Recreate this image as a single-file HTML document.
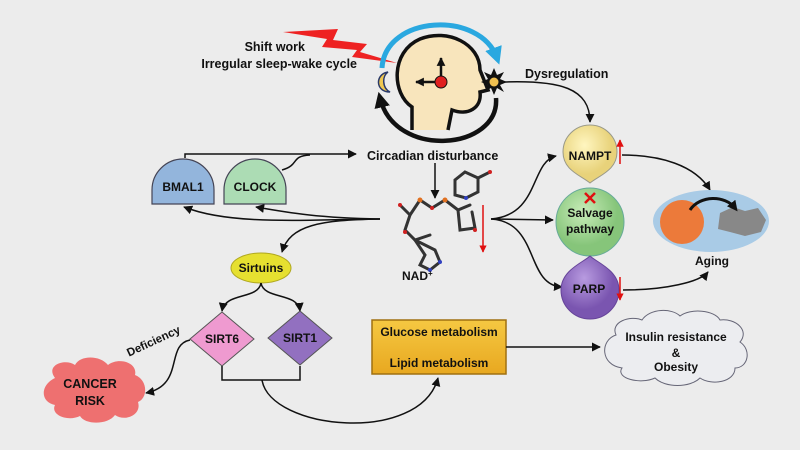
<!DOCTYPE html>
<html><head><meta charset="utf-8"><style>
body{margin:0;background:#ececec}
svg{display:block}
text{font-family:"Liberation Sans",sans-serif;font-weight:bold;fill:#111}
</style></head><body>
<svg width="800" height="450" viewBox="0 0 800 450">
<defs>
<marker id="a" viewBox="0 0 10 10" refX="9" refY="5" markerWidth="6" markerHeight="6" orient="auto"><path d="M0,0L10,5L0,10z" fill="#111"/></marker>
<marker id="as" viewBox="0 0 10 10" refX="9" refY="5" markerWidth="3.5" markerHeight="3.5" orient="auto"><path d="M0,0L10,5L0,10z" fill="#111"/></marker>
<marker id="ar" viewBox="0 0 10 10" refX="9" refY="5" markerWidth="5" markerHeight="5" orient="auto"><path d="M0,0L10,5L0,10z" fill="#e01010"/></marker>
<marker id="ab" viewBox="0 0 10 10" refX="6" refY="5" markerWidth="3.5" markerHeight="3.5" orient="auto"><path d="M0,0L10,5L0,10z" fill="#2aa8e0"/></marker>
<marker id="ak" viewBox="0 0 10 10" refX="6" refY="5" markerWidth="3.5" markerHeight="3.5" orient="auto"><path d="M0,0L10,5L0,10z" fill="#111"/></marker>
<radialGradient id="gy" cx="40%" cy="35%"><stop offset="0" stop-color="#fff6c0"/><stop offset="1" stop-color="#e8d27a"/></radialGradient>
<radialGradient id="gg" cx="40%" cy="35%"><stop offset="0" stop-color="#c8ecb8"/><stop offset="1" stop-color="#86c57a"/></radialGradient>
<radialGradient id="gp" cx="40%" cy="35%"><stop offset="0" stop-color="#b89be0"/><stop offset="1" stop-color="#7a55b0"/></radialGradient>
<linearGradient id="go" x1="0" y1="0" x2="0" y2="1"><stop offset="0" stop-color="#f5c842"/><stop offset="1" stop-color="#e8a820"/></linearGradient>
</defs>

<path d="M283,32 L338,29 L333,40 L367,44 L360,52 L397,63 L352,57 L357,50 L322,47 L327,39 Z" fill="#ee2222"/>
<text x="305" y="51" font-size="12.5" text-anchor="end">Shift work</text>
<text x="357" y="68" font-size="12.5" text-anchor="end">Irregular sleep-wake cycle</text>

<path d="M382,68 C385,15 480,10 497,58" fill="none" stroke="#2aa8e0" stroke-width="5" marker-end="url(#ab)"/>
<path d="M496,98 C500,150 395,160 380,98" fill="none" stroke="#111" stroke-width="4.5" marker-end="url(#ak)"/>

<path d="M412,130 L412,107 C392,94 390,52 420,39 C448,28 480,44 480,70 L488,90 L480,92 C482,108 468,116 452,110 L448,130 Z" fill="#f8e5bc" stroke="none"/>
<path d="M412,130 L412,107 C392,94 390,52 420,39 C448,28 480,44 480,70 L488,90 L480,92 C482,108 468,116 452,110 L448,130" fill="none" stroke="#111" stroke-width="3.5"/>
<line x1="441" y1="82" x2="441" y2="58" stroke="#111" stroke-width="2.5" marker-end="url(#as)"/>
<line x1="441" y1="82" x2="416" y2="82" stroke="#111" stroke-width="2.5" marker-end="url(#as)"/>
<circle cx="441" cy="82" r="6" fill="#e02020" stroke="#111" stroke-width="1"/>
<path d="M388,72 C375,74 375,92 390,92 C382,88 382,76 388,72 Z" fill="#f0c850" stroke="#2a3a6a" stroke-width="1.5"/>
<path d="M494,68 L497,75 L504,72 L500,79 L507,82 L500,85 L504,92 L497,88 L494,95 L491,88 L484,92 L488,85 L481,82 L488,79 L484,72 L491,75 Z" fill="#111"/>
<circle cx="494" cy="82" r="4.5" fill="#f0c050"/>

<text x="525" y="78" font-size="12.5">Dysregulation</text>
<path d="M503,82 C560,80 590,88 590,122" fill="none" stroke="#111" stroke-width="1.5" marker-end="url(#a)"/>

<text x="367" y="160" font-size="12.5">Circadian disturbance</text>
<path d="M185,158 L185,154 L356,154" fill="none" stroke="#111" stroke-width="1.5" marker-end="url(#a)"/>
<path d="M282,170 C300,165 290,156 310,155" fill="none" stroke="#111" stroke-width="1.5"/>

<path d="M152,204 L152,190 A31,31 0 0 1 214,190 L214,204 Z" fill="#93b5dc" stroke="#445" stroke-width="1.2"/>
<text x="183" y="191" font-size="12" text-anchor="middle">BMAL1</text>
<path d="M224,204 L224,190 A31,31 0 0 1 286,190 L286,204 Z" fill="#acdcb4" stroke="#445" stroke-width="1.2"/>
<text x="255" y="191" font-size="12" text-anchor="middle">CLOCK</text>

<path d="M380,219 C300,220 230,225 184,207" fill="none" stroke="#111" stroke-width="1.5" marker-end="url(#a)"/>
<path d="M380,219 C320,218 290,213 256,207" fill="none" stroke="#111" stroke-width="1.5" marker-end="url(#a)"/>
<path d="M380,219 C320,220 290,225 282,252" fill="none" stroke="#111" stroke-width="1.5" marker-end="url(#a)"/>
<line x1="435" y1="163" x2="435" y2="198" stroke="#111" stroke-width="1.5" marker-end="url(#a)"/>

<g stroke="#333" stroke-width="3" fill="none" stroke-linecap="round">
<path d="M410,215 L420,200 L432,208 L445,200 L458,210 L470,205"/>
<path d="M400,205 L410,215 L405,230 L415,240 L430,235"/>
<path d="M458,210 L460,230 L475,228 L472,212"/>
<path d="M455,195 L455,180 L465,172 L478,178 L478,192 L466,198 Z"/>
<path d="M478,178 L490,172"/>
<path d="M415,240 L425,255 L420,265 L430,270 L440,262 L435,250 Z"/>
</g>
<g>
<circle cx="420" cy="200" r="2.5" fill="#e07020"/><circle cx="445" cy="200" r="2.5" fill="#e07020"/>
<circle cx="432" cy="208" r="2" fill="#d02020"/><circle cx="400" cy="205" r="2" fill="#d02020"/>
<circle cx="405" cy="232" r="2" fill="#d02020"/><circle cx="475" cy="230" r="2" fill="#d02020"/>
<circle cx="490" cy="172" r="2" fill="#d02020"/><circle cx="466" cy="198" r="2" fill="#3040c0"/>
<circle cx="430" cy="270" r="2" fill="#3040c0"/><circle cx="440" cy="262" r="2" fill="#3040c0"/>
</g>
<text x="402" y="280" font-size="12">NAD<tspan font-size="8" dy="-4">+</tspan></text>
<line x1="483" y1="205" x2="483" y2="252" stroke="#e01010" stroke-width="1.5" marker-end="url(#ar)"/>

<path d="M491,219 C540,215 530,162 556,156" fill="none" stroke="#111" stroke-width="1.5" marker-end="url(#a)"/>
<path d="M491,219 L553,220" fill="none" stroke="#111" stroke-width="1.5" marker-end="url(#a)"/>
<path d="M491,219 C540,222 525,285 562,287" fill="none" stroke="#111" stroke-width="1.5" marker-end="url(#a)"/>

<path d="M590,183 C580,175 563,170 563,152 A27,27 0 0 1 617,152 C617,170 600,175 590,183 Z" fill="url(#gy)" stroke="#998" stroke-width="1"/>
<text x="590" y="160" font-size="12" text-anchor="middle">NAMPT</text>
<line x1="620" y1="164" x2="620" y2="140" stroke="#e01010" stroke-width="1.5" marker-end="url(#ar)"/>
<path d="M622,155 C660,155 695,165 710,190" fill="none" stroke="#111" stroke-width="1.5" marker-end="url(#a)"/>

<circle cx="590" cy="222" r="34" fill="url(#gg)" stroke="#6a9" stroke-width="1"/>
<path d="M585,193 L595,203 M595,193 L585,203" stroke="#e01010" stroke-width="2.5"/>
<text x="590" y="217" font-size="12" text-anchor="middle">Salvage</text>
<text x="590" y="233" font-size="12" text-anchor="middle">pathway</text>

<path d="M590,256 C596,262 619,270 619,290 A29,29 0 0 1 561,290 C561,270 584,262 590,256 Z" fill="url(#gp)" stroke="#649" stroke-width="1"/>
<text x="589" y="293" font-size="12" text-anchor="middle">PARP</text>
<line x1="620" y1="277" x2="620" y2="300" stroke="#e01010" stroke-width="1.5" marker-end="url(#ar)"/>
<path d="M623,290 C665,290 700,282 708,272" fill="none" stroke="#111" stroke-width="1.5" marker-end="url(#a)"/>

<ellipse cx="711" cy="221" rx="58" ry="31" fill="#a9cbe6"/>
<circle cx="682" cy="222" r="22" fill="#ec7a3a"/>
<path d="M720,213 L733,207 L745,211 L758,208 L766,220 L761,232 L745,236 L730,232 L718,229 Z" fill="#888"/>
<path d="M690,210 C700,195 725,195 735,208" fill="none" stroke="#111" stroke-width="3" marker-end="url(#ak)"/>
<text x="712" y="265" font-size="12" text-anchor="middle">Aging</text>

<ellipse cx="261" cy="268" rx="30" ry="15" fill="#e6e030" stroke="#b0a820" stroke-width="1"/>
<text x="261" y="272" font-size="12" text-anchor="middle">Sirtuins</text>
<path d="M261,283 C258,300 225,292 222,311" fill="none" stroke="#111" stroke-width="1.5" marker-end="url(#a)"/>
<path d="M261,283 C264,300 298,292 300,311" fill="none" stroke="#111" stroke-width="1.5" marker-end="url(#a)"/>

<path d="M222,312 L254,339 L222,366 L190,339 Z" fill="#ef9ad0" stroke="#555" stroke-width="1"/>
<text x="222" y="343" font-size="12" text-anchor="middle" font-weight="normal">SIRT6</text>
<path d="M300,311 L332,338 L300,365 L268,338 Z" fill="#9270c0" stroke="#555" stroke-width="1"/>
<text x="300" y="342" font-size="12" text-anchor="middle" font-weight="normal">SIRT1</text>
<path d="M222,366 L222,380 L300,380 L300,366" fill="none" stroke="#111" stroke-width="1.5"/>
<path d="M262,380 C270,430 420,445 438,378" fill="none" stroke="#111" stroke-width="1.5" marker-end="url(#a)"/>

<text x="153" y="345" font-size="11.5" text-anchor="middle" transform="rotate(-25 153 340)">Deficiency</text>
<path d="M190,340 C165,345 185,385 146,393" fill="none" stroke="#111" stroke-width="1.5" marker-end="url(#a)"/>

<path d="M55,378 C45,365 65,358 75,365 C80,355 100,355 108,365 C118,357 138,362 135,375 C148,380 148,398 138,402 C142,415 125,422 115,415 C108,425 85,425 80,416 C68,422 50,415 55,405 C40,402 40,385 55,378 Z" fill="#ee7070"/>
<text x="90" y="388" font-size="12.5" text-anchor="middle">CANCER</text>
<text x="90" y="405" font-size="12.5" text-anchor="middle">RISK</text>

<rect x="372" y="320" width="134" height="54" fill="url(#go)" stroke="#a07010" stroke-width="1.5"/>
<text x="439" y="336" font-size="12" text-anchor="middle">Glucose metabolism</text>
<text x="439" y="367" font-size="12" text-anchor="middle">Lipid metabolism</text>
<line x1="506" y1="347" x2="600" y2="347" stroke="#111" stroke-width="1.5" marker-end="url(#a)"/>

<path d="M616,335 C610,322 630,315 642,320 C650,308 672,308 680,316 C690,308 715,310 720,320 C735,318 750,330 740,342 C752,350 748,368 735,368 C735,382 712,386 700,378 C690,388 665,388 655,378 C640,385 615,378 622,368 C600,365 600,340 616,335 Z" fill="#ecedf0" stroke="#667" stroke-width="1"/>
<text x="676" y="341" font-size="12" text-anchor="middle">Insulin resistance</text>
<text x="676" y="357" font-size="12" text-anchor="middle">&amp;</text>
<text x="676" y="371" font-size="12" text-anchor="middle">Obesity</text>
</svg>
</body></html>
